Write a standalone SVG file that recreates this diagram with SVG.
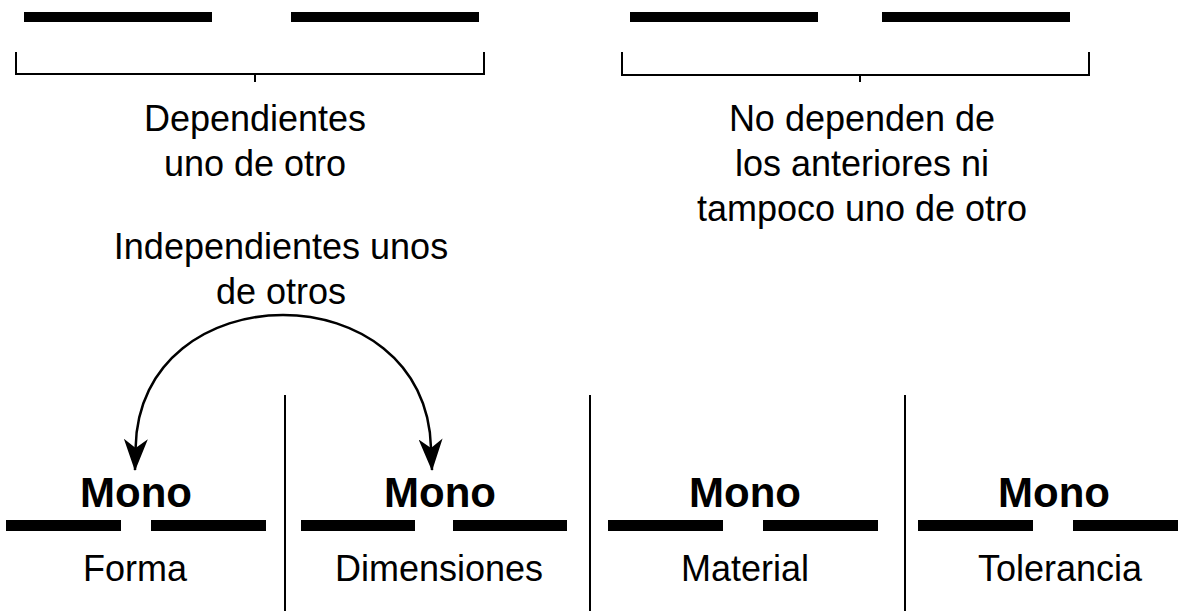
<svg xmlns="http://www.w3.org/2000/svg" width="1178" height="611" viewBox="0 0 1178 611">
<style>
  .t { font-family: "Liberation Sans", Arial, sans-serif; font-size: 36px; fill: #000; text-anchor: middle; }
  .b { font-family: "Liberation Sans", Arial, sans-serif; font-size: 42px; font-weight: bold; fill: #000; text-anchor: middle; }
  .bar { fill: #000; }
  .ln { stroke: #000; stroke-width: 2; fill: none; }
  .arc { stroke: #000; stroke-width: 2.5; fill: none; }
</style>
<defs>
  <marker id="ah" viewBox="0 0 32 24" refX="31" refY="12" markerWidth="32" markerHeight="24" markerUnits="userSpaceOnUse" orient="auto-start-reverse">
    <path d="M0,0 L32,12 L0,24 L9,12 Z" fill="#000"/>
  </marker>
</defs>
<rect width="1178" height="611" fill="#fff"/>

<g id="top-left">
  <rect class="bar" x="24" y="12" width="188" height="10"/>
  <rect class="bar" x="291" y="12" width="188" height="10"/>
  <path class="ln" d="M16,52 V74 H484 V52 M255,74 V82"/>
  <text class="t" x="255" y="131">Dependientes</text>
  <text class="t" x="255" y="176">uno de otro</text>
</g>

<g id="top-right">
  <rect class="bar" x="630" y="12" width="188" height="10"/>
  <rect class="bar" x="882" y="12" width="188" height="10"/>
  <path class="ln" d="M622,52 V75 H1089 V52 M860,75 V82"/>
  <text class="t" x="862" y="131">No dependen de</text>
  <text class="t" x="862" y="176">los anteriores ni</text>
  <text class="t" x="862" y="221">tampoco uno de otro</text>
</g>

<g id="independientes-label">
  <text class="t" x="281" y="259">Independientes unos</text>
  <text class="t" x="281" y="304">de otros</text>
</g>

<g id="dividers">
  <line class="ln" x1="285" y1="395" x2="285" y2="611"/>
  <line class="ln" x1="590" y1="395" x2="590" y2="611"/>
  <line class="ln" x1="905" y1="395" x2="905" y2="611"/>
</g>

<g id="forma">
  <text class="b" x="136" y="507">Mono</text>
  <rect class="bar" x="6" y="520" width="115" height="11"/>
  <rect class="bar" x="151" y="520" width="115" height="11"/>
  <text class="t" x="135" y="581">Forma</text>
</g>

<g id="dimensiones">
  <text class="b" x="440" y="507">Mono</text>
  <rect class="bar" x="301" y="520" width="114" height="11"/>
  <rect class="bar" x="453" y="520" width="114" height="11"/>
  <text class="t" x="439" y="581">Dimensiones</text>
</g>

<g id="material">
  <text class="b" x="745" y="507">Mono</text>
  <rect class="bar" x="608" y="520" width="115" height="11"/>
  <rect class="bar" x="763" y="520" width="115" height="11"/>
  <text class="t" x="745" y="581">Material</text>
</g>

<g id="tolerancia">
  <text class="b" x="1054" y="507">Mono</text>
  <rect class="bar" x="918" y="520" width="115" height="11"/>
  <rect class="bar" x="1073" y="520" width="115" height="11"/>
  <text class="t" x="1060" y="581">Tolerancia</text>
</g>

<g id="connectors">
  <path class="arc" d="M135,470 L135.6,448 C137,360 210,315 283,315 C356,315 429,360 431,448 L432,470" marker-start="url(#ah)" marker-end="url(#ah)"/>
</g>
</svg>
